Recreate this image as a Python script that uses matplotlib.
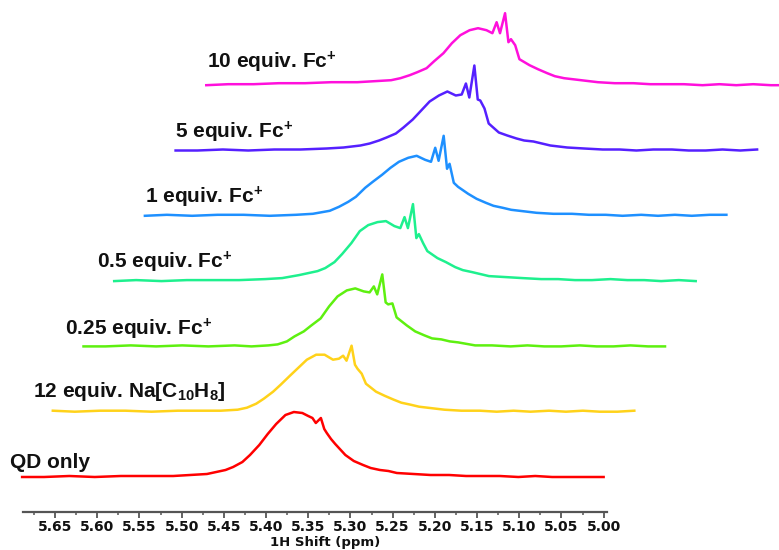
import numpy as np
import matplotlib
matplotlib.use("Agg")
import matplotlib.pyplot as plt
from matplotlib.ticker import FormatStrFormatter

plt.rcParams.update({
    "font.family": ["Liberation Sans", "DejaVu Sans"],
    "mathtext.fontset": "custom",
    "mathtext.rm": "Liberation Sans:bold",
    "mathtext.bf": "Liberation Sans:bold",
    "mathtext.it": "Liberation Sans:bold",
})

# chemical shift positions (ppm)
PPM = [5.689, 5.663, 5.633, 5.603, 5.572, 5.541, 5.510,
       5.490, 5.470, 5.459, 5.448, 5.439, 5.428, 5.419, 5.408, 5.398, 5.388, 5.377, 5.367, 5.357,
       5.350, 5.345, 5.341, 5.335, 5.331, 5.328, 5.323, 5.318,
       5.306, 5.296, 5.285, 5.276, 5.265, 5.255, 5.245,
       5.225, 5.205, 5.183, 5.163, 5.143, 5.123, 5.101, 5.081, 5.061, 5.041, 5.020, 5.000]

# intensities (arbitrary units), one list per spectrum, bottom to top
QD_ONLY = [0, 0, 1, 0, 1, 1, 1,
           2, 3, 5, 7, 10, 15, 22, 32, 43, 53, 62, 65, 64,
           61, 59, 54, 59, 48, 44, 38, 33,
           22, 16, 12, 9, 7, 6, 4,
           3, 2, 2, 1, 1, 1, 0, 1, 0, 0, 0, 0]
NA_12 = [1, 0, 1, 1, 0, 1, 1,
         1, 2, 4, 8, 13, 20, 27, 36, 44, 52, 57, 57, 52,
         53, 56, 51, 66, 47, 43, 38, 28,
         20, 16, 12, 9, 7, 5, 4,
         2, 1, 1, 0, 1, 0, 1, 0, 1, 0, 0, 1]
FC_025 = [0, 0, 1, 0, 1, 0, 1,
          0, 1, 2, 5, 10, 15, 21, 28, 40, 50, 56, 58, 55,
          54, 60, 52, 72, 44, 42, 43, 29,
          21, 15, 11, 8, 7, 5, 4,
          1, 1, 0, 1, 0, 0, 1, 0, 0, 1, 0, 0]
FC_05 = [0, 1, 0, 1, 1, 1, 2,
         3, 6, 8, 10, 13, 19, 27, 38, 50, 56, 59, 60, 55,
         53, 64, 53, 77, 43, 47, 38, 30,
         23, 19, 14, 11, 9, 7, 5,
         4, 3, 2, 2, 1, 1, 2, 1, 1, 0, 1, 0]
FC_1 = [0, 1, 0, 1, 1, 0, 1,
        2, 5, 9, 14, 19, 28, 34, 41, 48, 54, 58, 60, 56,
        54, 68, 55, 80, 47, 52, 33, 29,
        22, 17, 13, 10, 8, 6, 5,
        3, 2, 2, 1, 1, 0, 1, 0, 1, 0, 1, 1]
FC_5 = [0, 0, 1, 0, 1, 1, 2,
        3, 5, 7, 10, 13, 17, 23, 31, 40, 49, 55, 59, 55,
        56, 67, 53, 85, 51, 50, 42, 27,
        18, 15, 12, 10, 9, 7, 5,
        3, 2, 1, 1, 0, 1, 1, 0, 0, 1, 0, 1]
FC_10 = [0, 1, 1, 2, 2, 3, 3,
         4, 5, 7, 10, 13, 17, 24, 32, 42, 50, 55, 57, 55,
         52, 63, 52, 72, 43, 46, 40, 26,
         20, 16, 12, 9, 7, 6, 5,
         3, 2, 2, 1, 1, 1, 0, 1, 0, 1, 0, 0]

SPECTRA = [QD_ONLY, NA_12, FC_025, FC_05, FC_1, FC_5, FC_10]
LABELS = ["QD only",
          r"12 equiv. Na[C$_{10}$H$_{8}$]",
          r"0.25 equiv. Fc$^{+}$",
          r"0.5 equiv. Fc$^{+}$",
          r"1 equiv. Fc$^{+}$",
          r"5 equiv. Fc$^{+}$",
          r"10 equiv. Fc$^{+}$"]
COLORS = ["#ff0000", "#ffd21a", "#5ef010", "#1ef08e", "#1e90ff", "#5520ff", "#ff10dc"]

# stacking offsets (x in ppm, y in intensity units)
X_STEP, Y_STEP, Y0 = 0.03637, 65.3, 34.7
# label anchors in figure pixels (left, baseline)
LABEL_PX = [(10, 468), (33, 397), (65, 335), (97, 268), (145, 203), (175, 138), (207, 68)]

W, H = 779, 550
fig = plt.figure(figsize=(W / 100, H / 100), dpi=100)
ax = fig.add_axes([0, (H - 511.7) / H, 1, 511.7 / H])
ax.set_xlim(5.7152, 4.7922)
ax.set_ylim(0, 511.7)

ppm = np.array(PPM)
for i, (spec, c) in enumerate(zip(SPECTRA, COLORS)):
    ax.plot(ppm - i * X_STEP, Y0 + i * Y_STEP + np.array(spec), color=c, lw=1.8,
            solid_joinstyle="round")

for (px, py), lab in zip(LABEL_PX, LABELS):
    fig.text(px / W, 1 - py / H, lab, fontsize=15, fontweight="bold", color="#111111",
             ha="left", va="baseline")

for s in ["top", "left", "right"]:
    ax.spines[s].set_visible(False)
ax.spines["bottom"].set_bounds(4.996, 5.688)
ax.spines["bottom"].set_color("#555555")
ax.spines["bottom"].set_linewidth(1.6)
ax.set_yticks([])
ax.set_xticks(np.round(np.arange(5.0, 5.651, 0.05), 2))
ax.set_xticks(np.round(np.arange(5.025, 5.68, 0.05), 3), minor=True)
ax.xaxis.set_major_formatter(FormatStrFormatter("%.2f"))
ax.tick_params(axis="x", which="major", direction="out", length=4, width=1.3,
               color="#555555", pad=2, labelsize=10, labelcolor="#111111")
ax.tick_params(axis="x", which="minor", direction="out", length=2.5, width=1.1,
               color="#555555")
for t in ax.get_xticklabels():
    t.set_fontfamily("DejaVu Sans")
    t.set_fontweight("bold")

fig.text(325 / W, 1 - 549 / H, "1H Shift (ppm)", fontsize=9.5, fontweight="bold",
         family="DejaVu Sans", color="#111111", ha="center", va="bottom")

fig.savefig("out.png", dpi=100, facecolor="white")
